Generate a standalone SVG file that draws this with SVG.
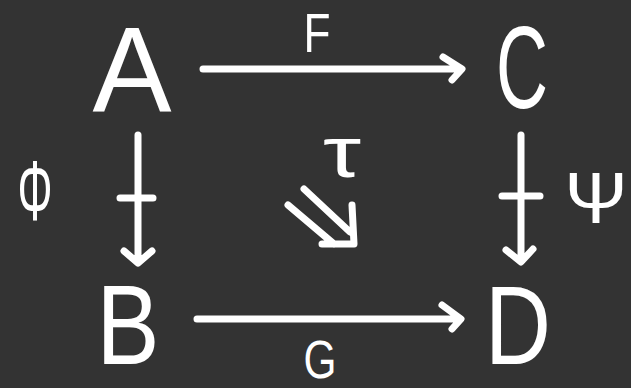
<svg xmlns="http://www.w3.org/2000/svg" width="631" height="388" viewBox="0 0 631 388">
  <style>
    .bg { fill: #333333; }
    .lbl { fill: #ffffff; font-family: "Liberation Sans", "DejaVu Sans", sans-serif; text-anchor: middle; }
    .ar { fill: none; stroke: #ffffff; stroke-width: 7; stroke-linecap: round; stroke-linejoin: round; }
  </style>
  <rect class="bg" x="0" y="0" width="631" height="388"/>
  <g id="A"><text class="lbl" x="132" y="111" font-size="120" textLength="79" lengthAdjust="spacingAndGlyphs">A</text></g>
  <g id="C"><text class="lbl" x="522" y="108" font-size="116" textLength="52" lengthAdjust="spacingAndGlyphs">C</text></g>
  <g id="B"><text class="lbl" x="128" y="364" font-size="114" textLength="63" lengthAdjust="spacingAndGlyphs">B</text></g>
  <g id="D"><text class="lbl" x="518" y="364" font-size="112" textLength="66" lengthAdjust="spacingAndGlyphs">D</text></g>
  <g id="connectors">
    <g id="F-arrow">
      <path class="ar" d="M203,69 L461,69 M443,57 L462,69 L452,80"/>
      <text class="lbl" x="317" y="52" font-size="56" textLength="27" lengthAdjust="spacingAndGlyphs">F</text>
    </g>
    <g id="G-arrow">
      <path class="ar" d="M197,319 L460,319 M442,305 L461,319 L452,329"/>
      <text class="lbl" x="320" y="378" font-size="54" textLength="33" lengthAdjust="spacingAndGlyphs">G</text>
    </g>
    <g id="Phi-arrow">
      <path class="ar" d="M138,135 L138,262 M120,198 L153,198 M124,251 L138,263 L152,251"/>
      <text class="lbl" x="35" y="220" font-size="86" textLength="35" lengthAdjust="spacingAndGlyphs">Φ</text>
    </g>
    <g id="Psi-arrow">
      <path class="ar" d="M521,135 L521,261 M502,196 L540,196 M506,250 L521,262 L533,249"/>
      <text class="lbl" x="596" y="223" font-size="72" textLength="63" lengthAdjust="spacingAndGlyphs">Ψ</text>
    </g>
    <g id="tau-arrow">
      <path class="ar" d="M304,189 L350,232 M288,205 L334,244 M352,205 L354,244 L322,244"/>
      <text class="lbl" x="342" y="177" font-size="72" textLength="38" lengthAdjust="spacingAndGlyphs">τ</text>
    </g>
  </g>
</svg>
